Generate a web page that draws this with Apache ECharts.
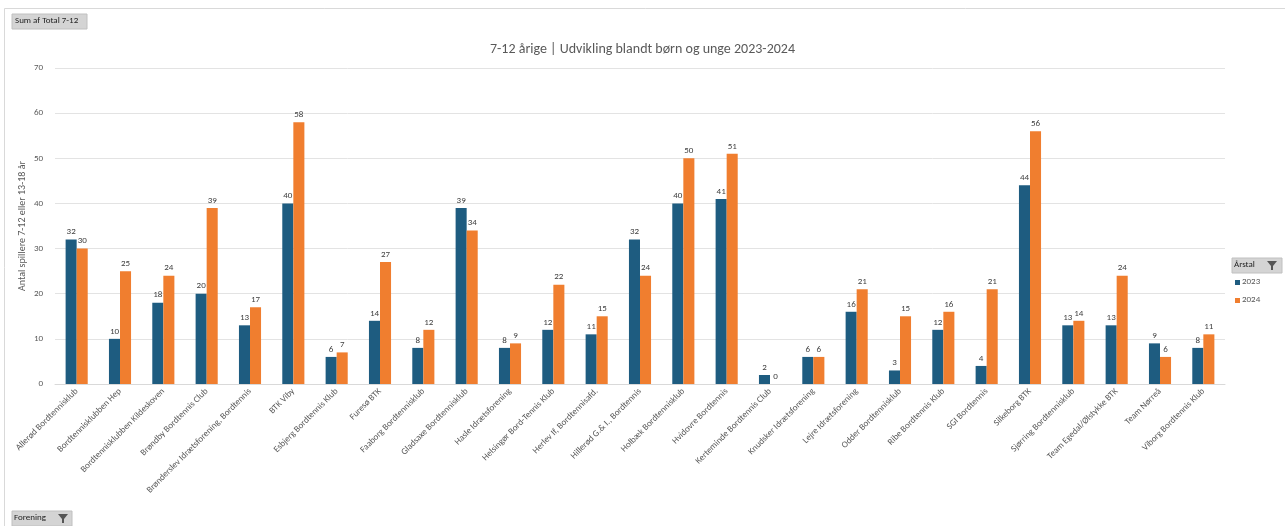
<!DOCTYPE html>
<html>
<head>
<meta charset="utf-8">
<script src="https://cdn.jsdelivr.net/npm/echarts@6/dist/echarts.min.js"></script>
<style>
html,body{margin:0;padding:0;background:#fff;}
#main{width:1285px;height:526px;}
</style>
</head>
<body>
<div id="main"></div>
<script>
const categories = [
  "Allerød Bordtennisklub","Bordtennisklubben Hep","Bordtennisklubben Kildeskoven","Brøndby Bordtennis Club",
  "Brønderslev Idrætsforening, Bordtennis","BTK Viby","Esbjerg Bordtennis Klub","Furesø BTK","Faaborg Bordtennisklub",
  "Gladsaxe Bordtennisklub","Hasle Idrætsforening","Helsingør Bord-Tennis Klub","Herlev If, Bordtennisafd.",
  "Hillerød G.& I., Bordtennis","Holbæk Bordtennisklub","Hvidovre Bordtennis","Kerteminde Bordtennis Club",
  "Knudsker Idrætsforening","Lejre Idrætsforening","Odder Bordtennisklub","Ribe Bordtennis Klub","SGI Bordtennis",
  "Silkeborg BTK","Sjørring Bordtennisklub","Team Egedal/Ølstykke BTK","Team Nørreå","Viborg Bordtennis Klub"
];
const values2023 = [32,10,18,20,13,40,6,14,8,39,8,12,11,32,40,41,2,6,16,3,12,4,44,13,13,9,8];
const values2024 = [30,25,24,39,17,58,7,27,12,34,9,22,15,24,50,51,0,6,21,15,16,21,56,14,24,6,11];
const seriesNames = ["2023","2024"];
const yTicks = {min:0, max:70, interval:10};

const font = "Calibri, Carlito, 'Liberation Sans', Arial, sans-serif";
const chart = echarts.init(document.getElementById('main'));
const labelStyle = {show:true, position:'top', fontSize:9, color:'#404040', fontFamily:font, distance:3};
chart.setOption({
  animation:false,
  title:{
    text:"7-12 årige | Udvikling blandt børn og unge 2023-2024",
    left:'center', top:37,
    textStyle:{fontSize:14, fontWeight:'normal', color:'#595959', fontFamily:font}
  },
  grid:{left:55, right:60, top:68, bottom:142, containLabel:false},
  legend:{show:false},
  xAxis:{
    type:'category', data:categories,
    axisLine:{lineStyle:{color:'#d9d9d9'}},
    axisTick:{show:false},
    axisLabel:{rotate:45, fontSize:9, color:'#595959', fontFamily:font, interval:0, margin:6}
  },
  yAxis:{
    type:'value', min:yTicks.min, max:yTicks.max, interval:yTicks.interval,
    name:"Antal spillere 7-12 eller 13-18 år", nameLocation:'middle', nameGap:33, nameRotate:90,
    nameMoveOverlap:false,
    nameTextStyle:{fontSize:10, color:'#595959', fontFamily:font, verticalAlign:'middle'},
    axisLine:{show:false}, axisTick:{show:false},
    axisLabel:{fontSize:9, color:'#595959', fontFamily:font, margin:12},
    splitLine:{lineStyle:{color:'#e3e3e3'}}
  },
  series:[
    {name:seriesNames[0], type:'bar', data:values2023, barGap:'0%', barCategoryGap:'49%',
     itemStyle:{color:'#1E5C80'}, label:labelStyle},
    {name:seriesNames[1], type:'bar', data:values2024, barGap:'0%', barCategoryGap:'49%',
     itemStyle:{color:'#F07E2F'}, label:labelStyle}
  ],
  graphic:[
    {type:'rect', shape:{x:4.5, y:8.5, width:1290, height:530}, style:{fill:'none', stroke:'#d9d9d9', lineWidth:1}, silent:true},
    {type:'rect', shape:{x:12, y:14, width:75, height:15}, style:{fill:'#d4d4d4', stroke:'#c0c0c0', lineWidth:1}},
    {type:'text', x:15, y:16, style:{text:'Sum af Total 7-12', fontSize:9, fill:'#222', fontFamily:font}},
    {type:'rect', shape:{x:12, y:511, width:60, height:15}, style:{fill:'#d4d4d4', stroke:'#c0c0c0', lineWidth:1}},
    {type:'text', x:14, y:513, style:{text:'Forening', fontSize:9, fill:'#222', fontFamily:font}},
    {type:'polygon', shape:{points:[[58,514],[68,514],[64,519],[64,523],[62,523],[62,519]]}, style:{fill:'#555'}},
    {type:'rect', shape:{x:1232, y:258, width:50, height:15}, style:{fill:'#d4d4d4', stroke:'#c0c0c0', lineWidth:1}},
    {type:'text', x:1234, y:260, style:{text:'Årstal', fontSize:9, fill:'#222', fontFamily:font}},
    {type:'polygon', shape:{points:[[1267,261],[1277,261],[1273,266],[1273,270],[1271,270],[1271,266]]}, style:{fill:'#555'}},
    {type:'rect', shape:{x:1235, y:280, width:5, height:5}, style:{fill:'#1E5C80'}},
    {type:'text', x:1242, y:277, style:{text:seriesNames[0], fontSize:9, fill:'#595959', fontFamily:font}},
    {type:'rect', shape:{x:1235, y:298, width:5, height:5}, style:{fill:'#F07E2F'}},
    {type:'text', x:1242, y:295, style:{text:seriesNames[1], fontSize:9, fill:'#595959', fontFamily:font}}
  ]
});
</script>
</body>
</html>
